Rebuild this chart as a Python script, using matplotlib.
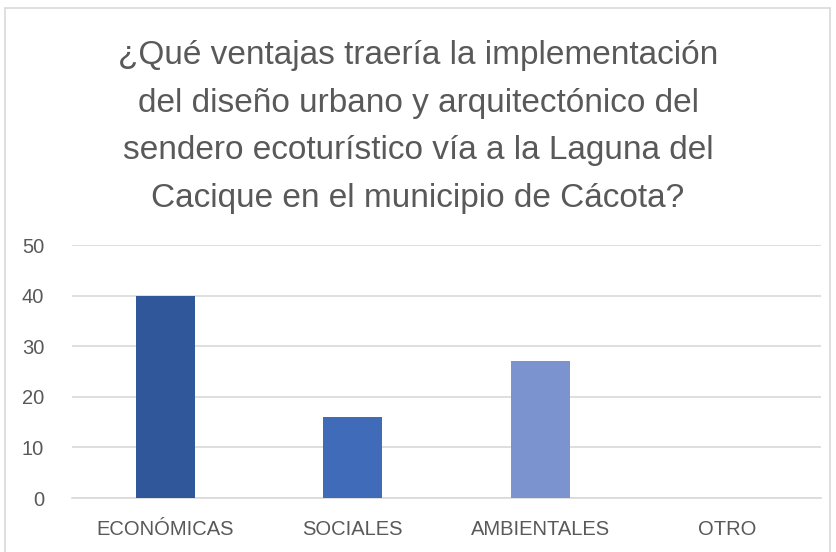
import matplotlib
matplotlib.use("Agg")
import matplotlib.pyplot as plt
from matplotlib.patches import Rectangle

# data
categorias = ["ECONÓMICAS", "SOCIALES", "AMBIENTALES", "OTRO"]
valores = [40, 16, 27, 0]
colores = ["#30579A", "#3F6BB8", "#7B94CF", "#A9B9E0"]
y_ticks = [0, 10, 20, 30, 40, 50]
titulo = ("¿Qué ventajas traería la implementación\n"
          "del diseño urbano y arquitectónico del\n"
          "sendero ecoturístico vía a la Laguna del\n"
          "Cacique en el municipio de Cácota?")

plt.rcParams["font.family"] = ["Liberation Sans", "DejaVu Sans"]
texto = "#595959"

W, H = 836, 552
fig = plt.figure(figsize=(W / 100, H / 100), dpi=100)

# light chart frame like the Excel chart area
fig.patches.append(Rectangle((5 / W, -0.01), 825 / W, 1 - 8 / H + 0.01,
                             transform=fig.transFigure, fill=False,
                             edgecolor="#D9D9D9", linewidth=1.2))

ax = fig.add_axes([72 / W, 1 - 498 / H, (821 - 72) / W, (498 - 245) / H])
x = list(range(len(categorias)))
ax.bar(x, valores, width=0.315, color=colores, zorder=3)

ax.set_xlim(-0.5, len(categorias) - 0.5)
ax.set_ylim(0, 50)
ax.set_yticks(y_ticks)
ax.set_xticks(x)
ax.set_xticklabels(categorias)
ax.grid(axis="y", color="#D9D9D9", linewidth=1.2, zorder=0)
for s in ["top", "right", "left"]:
    ax.spines[s].set_visible(False)
ax.spines["bottom"].set_color("#D9D9D9")
ax.spines["bottom"].set_linewidth(1.2)
ax.tick_params(axis="both", length=0, labelsize=14.5, colors=texto)
ax.tick_params(axis="y", pad=20)
ax.tick_params(axis="x", pad=16)

fig.text(418 / W, 1 - 127 / H, titulo, ha="center", va="center",
         fontsize=24, color=texto, linespacing=1.70)

fig.savefig("out.png", dpi=100)
